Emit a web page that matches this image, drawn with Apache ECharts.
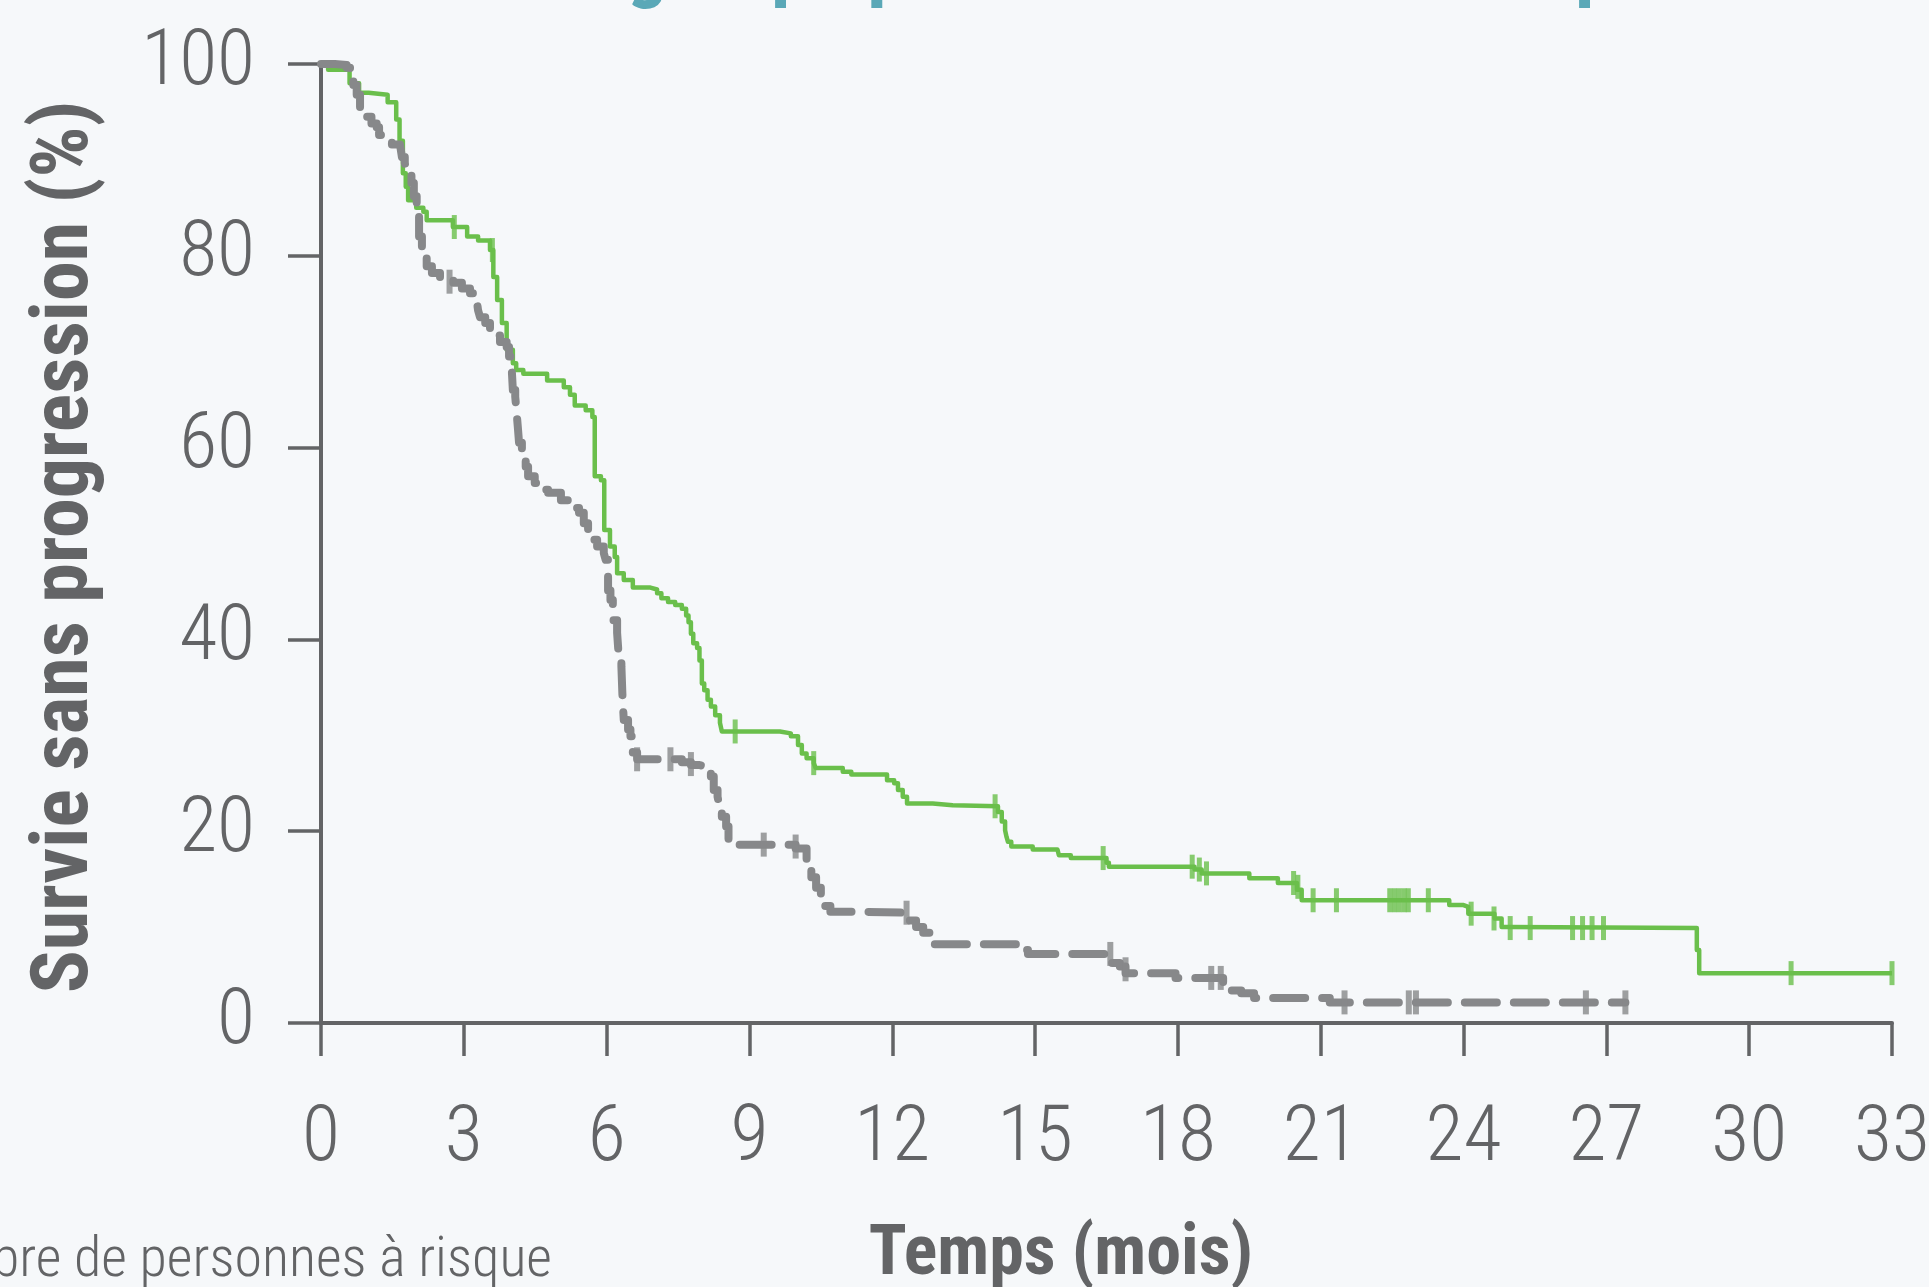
<!DOCTYPE html>
<html>
<head>
<meta charset="utf-8">
<script src="https://cdn.jsdelivr.net/npm/echarts@6/dist/echarts.min.js"></script>
<style>
html,body{margin:0;padding:0;background:#f6f8fa;overflow:hidden}
#c{width:1929px;height:1287px}
</style>
</head>
<body>
<div id="c"></div>
<script>
// ---- data (months, % progression-free survival) ----
const xTicks = [0, 3, 6, 9, 12, 15, 18, 21, 24, 27, 30, 33];
const yTicks = [0, 20, 40, 60, 80, 100];

const greenCurve = [
  [0,100],[0.15,99.4],[0.6,98],[0.8,97],[1.0,96.8],[1.4,96],[1.58,94.2],[1.65,92],[1.72,88.6],[1.78,87.2],
  [1.83,85.8],[2.0,85],[2.15,84.6],[2.22,83.7],[2.77,83],[3.07,82],[3.3,81.6],[3.55,80.6],[3.62,77.8],[3.7,75.4],
  [3.8,73],[3.9,70.2],[4.03,68.8],[4.1,68.1],[4.25,67.7],[4.75,67],[5.1,66.3],[5.23,65.5],[5.33,64.4],[5.56,63.9],
  [5.7,63.2],[5.75,57],[5.88,56.6],[5.95,51.4],[6.07,49.7],[6.17,48.6],[6.22,46.9],[6.36,46.2],[6.55,45.4],[6.92,45.2],
  [7.06,44.8],[7.15,44.3],[7.29,43.9],[7.44,43.6],[7.58,43.2],[7.67,42.5],[7.72,41.8],[7.77,40.6],[7.82,39.6],[7.9,39.1],
  [7.95,37.8],[8.0,35.4],[8.05,34.7],[8.12,33.7],[8.19,33],[8.28,32.1],[8.38,31.3],[8.42,30.4],[9.64,30.2],[9.87,29.9],
  [10.02,29],[10.1,28.1],[10.2,27.6],[10.35,27.1],[10.39,26.6],[10.96,26.2],[11.14,25.9],[11.89,25.3],[12.04,25],[12.12,24.3],
  [12.22,23.6],[12.31,22.9],[12.85,22.7],[13.27,22.6],[14.22,22.0],[14.3,21.0],[14.37,20.1],[14.4,19.4],[14.43,18.9],[14.5,18.4],
  [14.95,18.1],[15.47,18.0],[15.5,17.5],[15.75,17.2],[16.5,16.7],[16.55,16.3],[18.35,16.0],[18.5,15.6],[19.5,15.1],[20.1,14.6],
  [20.5,13.9],[20.6,12.8],[23.7,12.3],[24.0,12.1],[24.1,11.4],[24.65,10.9],[24.8,10.0],[24.98,9.9],[28.9,7.6],[28.95,5.2],
  [33,5.2]
];
const greenCensor = [
  [2.8,83],[3.6,80.6],[8.7,30.4],[10.35,27.1],[14.16,22.6],[16.43,17.2],[18.3,16.3],[18.45,16.0],[18.6,15.6],
  [20.43,14.6],[20.52,14.2],[20.84,12.8],[21.33,12.8],[22.45,12.8],[22.55,12.8],[22.65,12.8],[22.75,12.8],[22.84,12.8],
  [23.26,12.8],[24.16,11.4],[24.64,10.9],[24.98,9.9],[25.4,9.9],[26.29,9.9],[26.5,9.9],[26.7,9.9],[26.94,9.9],
  [30.88,5.2],[33,5.2]
];
const grayCurve = [
  [0,100],[0.29,99.9],[0.54,99.6],[0.61,98.7],[0.68,97.8],[0.75,96.8],[0.82,95.4],[0.96,94.5],[1.06,93.8],[1.17,93.4],
  [1.22,92.6],[1.3,92.4],[1.49,91.6],[1.66,91.4],[1.7,90.3],[1.76,89.7],[1.8,88.8],[1.9,87.6],[1.95,86.2],[2.01,84.1],
  [2.06,82],[2.12,79.9],[2.22,78.9],[2.33,78.2],[2.5,77.5],[2.78,77.2],[2.96,76.6],[3.13,76.1],[3.27,75.4],[3.3,74.3],
  [3.34,73.6],[3.45,73],[3.55,72.3],[3.66,71.7],[3.76,71],[3.9,70.5],[3.95,69.5],[4.0,68.8],[4.03,66],[4.08,65.3],
  [4.11,63.6],[4.14,61.8],[4.16,60.5],[4.22,58.7],[4.3,58],[4.35,57],[4.49,56.3],[4.58,55.6],[4.77,55.3],[5.04,54.5],
  [5.19,54],[5.33,53.7],[5.42,53.2],[5.52,52.1],[5.61,51.4],[5.7,50.4],[5.8,49.7],[5.94,49],[5.98,48.3],[6.03,45.1],
  [6.08,44.1],[6.13,42],[6.22,40.7],[6.26,37.8],[6.31,37.2],[6.33,34.4],[6.34,33.4],[6.36,31.6],[6.45,30.6],[6.5,29.9],
  [6.55,28.2],[6.64,27.5],[7.58,27.2],[7.77,26.9],[7.95,26.7],[8.09,26.4],[8.19,25.7],[8.25,24.3],[8.33,23.6],[8.37,22.6],
  [8.42,21.5],[8.51,20.5],[8.56,19.1],[8.61,18.6],[9.97,18.2],[10.2,16.7],[10.3,15.2],[10.4,14.1],[10.5,12.2],[10.7,11.6],
  [11.3,11.5],[12.35,10.7],[12.5,10.0],[12.65,9.4],[12.78,8.2],[14.64,7.6],[14.85,7.2],[16.6,6.25],[16.78,5.9],[16.9,5.2],
  [17.95,4.7],[18.95,4.2],[19.05,3.4],[19.33,3.1],[19.6,2.6],[21.19,2.15],[27.4,2.15]
];
const grayCensor = [
  [2.7,77.3],[6.64,27.5],[7.34,27.5],[7.77,27.0],[9.3,18.6],[9.97,18.4],[12.3,11.5],[16.58,7.2],[16.9,5.6],
  [18.7,4.7],[18.9,4.7],[21.5,2.15],[22.85,2.15],[23.0,2.15],[26.57,2.15],[27.4,2.15]
];

const titleText = 'Pour le groupe placebo + chimiothérapie';
const xTitle = 'Temps (mois)';
const yTitle = 'Survie sans progression (%)';
const riskText = 'Nombre de personnes à risque';

// ---- styles ----
const BG = '#f6f8fa';
const AX = '#636466';
const GREEN = '#6abf4b';
const GRAY = '#87888a';
const TEAL = '#5aa8b7';
const NARROW = "'Roboto Condensed', 'Liberation Sans Narrow', 'Arial Narrow', sans-serif";

const chart = echarts.init(document.getElementById('c'), null, {renderer: 'canvas'});
chart.setOption({
  backgroundColor: BG,
  animation: false,
  grid: {left: 321, right: 37, top: 64, bottom: 264, containLabel: false, outerBoundsMode: 'none'},
  xAxis: {
    type: 'value', min: xTicks[0], max: xTicks[xTicks.length - 1], interval: 3,
    splitLine: {show: false},
    axisLine: {show: true, onZero: false, lineStyle: {color: AX, width: 4}},
    axisTick: {show: true, inside: false, length: 33, lineStyle: {color: AX, width: 3.5}},
    axisLabel: {show: true, margin: 78, color: AX, fontFamily: NARROW, fontWeight: 300, fontSize: 78,
      formatter: v => xTicks.indexOf(v) >= 0 ? String(v) : ''}
  },
  yAxis: {
    type: 'value', min: 0, max: 100, interval: 20,
    splitLine: {show: false},
    axisLine: {show: true, onZero: false, lineStyle: {color: AX, width: 4}},
    axisTick: {show: true, inside: false, length: 33, lineStyle: {color: AX, width: 3.5}},
    axisLabel: {show: true, margin: 66, color: AX, fontFamily: NARROW, fontWeight: 300, fontSize: 78,
      formatter: v => yTicks.indexOf(v) >= 0 ? String(v) : ''}
  },
  series: [
    {type: 'line', data: greenCurve, step: 'end', symbol: 'none', z: 3,
      lineStyle: {color: GREEN, width: 4.5, join: 'round'}},
    {type: 'scatter', data: greenCensor, symbol: 'rect', symbolSize: [5, 24], z: 4,
      itemStyle: {color: GREEN}},
    {type: 'line', data: grayCurve, step: 'end', symbol: 'none', z: 5,
      lineStyle: {color: GRAY, width: 8, type: [32, 17], cap: 'round', join: 'round'}},
    {type: 'scatter', data: grayCensor, symbol: 'rect', symbolSize: [6, 24], z: 6,
      itemStyle: {color: GRAY}}
  ],
  graphic: [
    {type: 'text', x: 1673, y: -28, z: 10,
      style: {text: titleText, align: 'right', verticalAlign: 'middle', fill: TEAL,
        font: "bold 80px " + NARROW}},
    {type: 'text', x: 67, y: 547, rotation: Math.PI / 2, z: 10,
      style: {text: yTitle, align: 'center', verticalAlign: 'middle', fill: AX,
        font: "bold 80px " + NARROW}},
    {type: 'text', x: 1061, y: 1256, z: 10,
      style: {text: xTitle, align: 'center', verticalAlign: 'middle', fill: AX,
        font: "bold 70px " + NARROW}},
    {type: 'text', x: 552, y: 1262, z: 10,
      style: {text: riskText, align: 'right', verticalAlign: 'middle', fill: AX,
        font: "300 56px " + NARROW}}
  ]
});
</script>
</body>
</html>
